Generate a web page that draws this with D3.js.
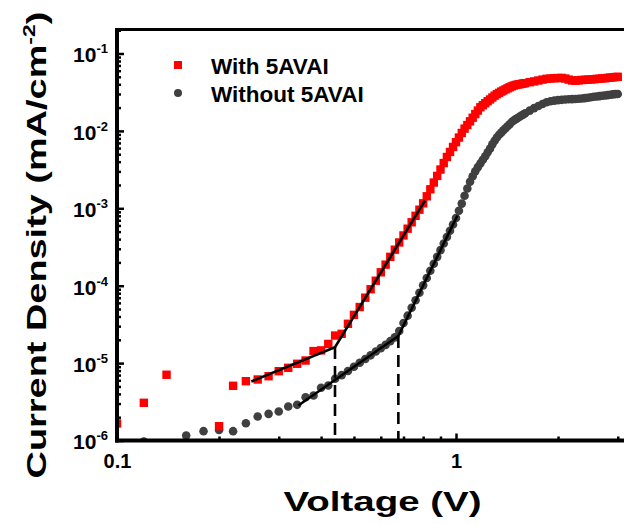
<!DOCTYPE html>
<html><head><meta charset="utf-8">
<script src="https://cdn.jsdelivr.net/npm/d3@7"></script>
<style>
body{margin:0;background:#fff}
svg{display:block;background:#fff}
text{font-family:Arial,"Liberation Sans",sans-serif;font-weight:bold;fill:#000}
</style>
</head><body>
<svg id="chart" width="624" height="524"></svg>
<script>
// ---------------- data ----------------
const voltage = [0.10,0.12,0.14,0.16,0.18,0.20,0.22,0.24,0.26,0.28,0.30,0.32,0.34,0.36,0.38,0.40,0.42,0.44,0.46,0.48,
  0.50,0.52,0.54,0.56,0.58,0.60,0.62,0.64,0.66,0.68,0.70,0.72,0.74,0.76,0.78,0.80,0.82,0.84,0.86,0.88,
  0.90,0.92,0.94,0.96,0.98,1.00,1.02,1.04,1.06,1.08,1.10,1.12,1.14,1.16,1.18,1.20,
  1.22,1.24,1.26,1.28,1.30,1.32,1.34,1.36,1.38,1.40,1.42,1.44,1.46,1.48,1.50,1.52,1.54,1.56,1.58,1.60,
  1.65,1.70,1.75,1.80,1.85,1.90,1.95,2.00,2.05,2.10,2.15,2.20,
  2.25,2.30,2.35,2.40,2.45,2.50,2.55,2.60,2.65,2.70,2.75,2.80,2.85,2.90,2.95,3.00];

const jWith = [1.66e-6,3.07e-6,7.07e-6,null,null,1.53e-6,5.09e-6,5.84e-6,6.14e-6,6.77e-6,7.86e-6,8.69e-6,9.8e-6,1.08e-5,1.43e-5,1.46e-5,1.77e-5,2.27e-5,2.39e-5,3.22e-5,
  4.2e-5,5.3e-5,7.0e-5,9.0e-5,1.16e-4,1.49e-4,1.87e-4,2.36e-4,2.92e-4,3.62e-4,4.46e-4,5.45e-4,6.6e-4,8.0e-4,9.6e-4,1.16e-3,1.43e-3,1.76e-3,2.15e-3,2.62e-3,
  3.17e-3,3.84e-3,4.6e-3,5.35e-3,6.2e-3,7.15e-3,8.2e-3,9.4e-3,1.07e-2,1.19e-2,1.33e-2,1.48e-2,1.65e-2,1.83e-2,2.02e-2,2.15e-2,
  2.28e-2,2.42e-2,2.55e-2,2.7e-2,2.85e-2,2.98e-2,3.1e-2,3.22e-2,3.33e-2,3.44e-2,3.55e-2,3.66e-2,3.76e-2,3.85e-2,3.92e-2,3.97e-2,4.01e-2,4.05e-2,4.1e-2,4.14e-2,
  4.26e-2,4.36e-2,4.48e-2,4.6e-2,4.71e-2,4.75e-2,4.8e-2,4.82e-2,4.84e-2,4.75e-2,4.6e-2,4.48e-2,
  4.45e-2,4.5e-2,4.55e-2,4.57e-2,4.6e-2,4.62e-2,4.65e-2,4.7e-2,4.72e-2,4.77e-2,4.8e-2,4.84e-2,4.88e-2,4.92e-2,4.96e-2,5.0e-2];

const jWithout = [null,0.97e-6,null,1.16e-6,1.32e-6,1.37e-6,1.32e-6,1.67e-6,2.04e-6,2.21e-6,2.37e-6,2.75e-6,2.89e-6,3.62e-6,3.81e-6,4.8e-6,5.14e-6,6.27e-6,7.0e-6,7.9e-6,
  8.96e-6,1.01e-5,1.13e-5,1.26e-5,1.41e-5,1.56e-5,1.72e-5,1.92e-5,2.15e-5,2.6e-5,3.3e-5,4.1e-5,5.2e-5,6.5e-5,8.1e-5,1.01e-4,1.26e-4,1.56e-4,1.92e-4,2.36e-4,
  2.88e-4,3.51e-4,4.25e-4,5.13e-4,6.17e-4,7.5e-4,9.3e-4,1.15e-3,1.45e-3,1.8e-3,2.2e-3,2.6e-3,3.0e-3,3.4e-3,3.8e-3,4.24e-3,
  4.7e-3,5.3e-3,5.9e-3,6.7e-3,7.45e-3,8.2e-3,8.9e-3,9.5e-3,1.02e-2,1.08e-2,1.15e-2,1.22e-2,1.3e-2,1.36e-2,1.42e-2,1.47e-2,1.52e-2,1.58e-2,1.63e-2,1.69e-2,
  1.83e-2,1.97e-2,2.1e-2,2.23e-2,2.35e-2,2.42e-2,2.46e-2,2.5e-2,2.52e-2,2.54e-2,2.56e-2,2.57e-2,
  2.58e-2,2.6e-2,2.62e-2,2.65e-2,2.68e-2,2.72e-2,2.76e-2,2.78e-2,2.81e-2,2.84e-2,2.87e-2,2.9e-2,2.93e-2,2.96e-2,2.99e-2,3.0e-2];

const seriesNames = ["With 5AVAI", "Without 5AVAI"];
const seriesColors = ["#ff0000", "#404040"];

// linear fits (knee lines)
const fitWithV = [0.249, 0.4396, 0.810];
const fitWithJ = [5.78e-6, 1.61e-5, 1.26e-3];
const fitWithoutV = [0.3425, 0.676, 1.01];
const fitWithoutJ = [2.83e-6, 2.24e-5, 8.07e-4];
// dashed markers of the knee voltages
const kneeV = [0.4396, 0.676];
const kneeJ = [1.61e-5, 2.24e-5];

const xMajorTicks = [0.1, 1];
const xTickLabels = ["0.1", "1"];
const xMinorTicks = [0.2,0.3,0.4,0.5,0.6,0.7,0.8,0.9,2,3];
const yMajorTicks = [1e-6,1e-5,1e-4,1e-3,1e-2,1e-1];
const yTickExponents = ["-6","-5","-4","-3","-2","-1"];

const xTitle = "Voltage (V)";
const yTitleMain = "Current Density (mA/cm";
const yTitleSup = "-2";
const yTitleEnd = ")";

// ---------------- layout ----------------
const svg = d3.select("#chart");
const plotLeft = 117, plotBottom = 440.5, plotTop = 30;
const x = d3.scaleLog().domain([0.1, 3.2]).range([plotLeft, plotLeft + 339 * Math.log10(32)]);
const y = d3.scaleLog().domain([1e-6, 0.2]).range([plotBottom, plotBottom - 77.4 * Math.log10(2e5)]);

svg.append("defs").append("clipPath").attr("id","clip")
  .append("rect").attr("x", plotLeft).attr("y", 0).attr("width", 624 - plotLeft).attr("height", plotBottom);

// data markers
const plot = svg.append("g").attr("clip-path","url(#clip)");
const withPts = voltage.map((v,i)=>({v, j:jWith[i]})).filter(d=>d.j!=null);
const withoutPts = voltage.map((v,i)=>({v, j:jWithout[i]})).filter(d=>d.j!=null);

plot.append("g").selectAll("circle").data(withoutPts).join("circle")
  .attr("cx", d=>x(d.v)).attr("cy", d=>y(d.j)).attr("r", 4.3).attr("fill", seriesColors[1]);
plot.append("g").selectAll("rect").data(withPts).join("rect")
  .attr("x", d=>x(d.v)-4.2).attr("y", d=>y(d.j)-4.2).attr("width", 8.4).attr("height", 8.4).attr("fill", seriesColors[0]);

// fit lines
const line = d3.line().x(d=>x(d[0])).y(d=>y(d[1]));
svg.append("path").attr("d", line(fitWithV.map((v,i)=>[v, fitWithJ[i]])))
  .attr("fill","none").attr("stroke","#000").attr("stroke-width",2.6);
svg.append("path").attr("d", line(fitWithoutV.map((v,i)=>[v, fitWithoutJ[i]])))
  .attr("fill","none").attr("stroke","#000").attr("stroke-width",2.6);
// dashed verticals
svg.append("g").selectAll("line").data(kneeV).join("line")
  .attr("x1", d=>x(d)).attr("x2", d=>x(d))
  .attr("y1", (d,i)=>y(kneeJ[i])).attr("y2", y(1e-6))
  .attr("stroke","#000").attr("stroke-width",2.6).attr("stroke-dasharray","12,7");

// ---------------- axes ----------------
svg.append("g").attr("transform",`translate(0,${plotBottom})`)
  .call(d3.axisBottom(x).tickValues(xMinorTicks).tickSize(-4).tickFormat(""))
  .call(g=>{g.select(".domain").remove(); g.selectAll("line").attr("stroke-width",2.5);});
const gx = svg.append("g").attr("transform",`translate(0,${plotBottom})`)
  .call(d3.axisBottom(x).tickValues(xMajorTicks).tickSize(-7).tickPadding(13)
        .tickFormat((d,i)=>xTickLabels[i]));
gx.select(".domain").remove();
gx.selectAll("line").attr("stroke-width",2.5);
gx.selectAll("text").attr("font-size",20).attr("font-family",null).style("font-weight","bold");

const yMinor = y.ticks().filter(t=>!yMajorTicks.some(m=>Math.abs(m-t)/m<1e-6));
svg.append("g").attr("transform",`translate(${plotLeft},0)`)
  .call(d3.axisLeft(y).tickValues(yMinor).tickSize(-4).tickFormat(""))
  .call(g=>{g.select(".domain").remove(); g.selectAll("line").attr("stroke-width",2.5);});
const gy = svg.append("g").attr("transform",`translate(${plotLeft},0)`)
  .call(d3.axisLeft(y).tickValues(yMajorTicks).tickSize(-7).tickPadding(9).tickFormat(""));
gy.select(".domain").remove();
gy.selectAll("line").attr("stroke-width",2.5);
gy.selectAll(".tick text").each(function(d,i){
  const t = d3.select(this).attr("font-size",21).attr("font-family",null).attr("dy","0.4em");
  t.append("tspan").text("10");
  t.append("tspan").attr("font-size",13).attr("dy",-9).text(yTickExponents[i]);
});

svg.append("line").attr("x1",plotLeft).attr("x2",plotLeft).attr("y1",plotTop-2).attr("y2",plotBottom+2)
  .attr("stroke","#000").attr("stroke-width",4);
svg.append("line").attr("x1",plotLeft-2).attr("x2",624).attr("y1",plotBottom).attr("y2",plotBottom)
  .attr("stroke","#000").attr("stroke-width",4);
svg.append("line").attr("x1",plotLeft-2).attr("x2",624).attr("y1",plotTop-0.5).attr("y2",plotTop-0.5)
  .attr("stroke","#000").attr("stroke-width",3);

// ---------------- titles ----------------
const xt = svg.append("text").attr("text-anchor","middle").attr("font-size",28).text(xTitle);
const xw = xt.node().getBBox().width;
xt.attr("transform",`translate(382.5,511) scale(${198/xw},1)`);

const yt = svg.append("text").attr("text-anchor","middle").attr("font-size",28);
yt.append("tspan").text(yTitleMain);
yt.append("tspan").attr("font-size",17).attr("dy",-11).text(yTitleSup);
yt.append("tspan").attr("dy",11).text(yTitleEnd);
const yw = yt.node().getBBox().width;
yt.attr("transform",`translate(46,245) rotate(-90) scale(${467/yw},1)`);

// ---------------- legend ----------------
const lg = svg.append("g");
lg.append("rect").attr("x",174).attr("y",61).attr("width",8).attr("height",8).attr("fill",seriesColors[0]);
lg.append("circle").attr("cx",178).attr("cy",93).attr("r",4).attr("fill",seriesColors[1]);
lg.selectAll("text").data(seriesNames).join("text")
  .attr("x",211).attr("y",(d,i)=>73.5+i*28).attr("font-size",22.5).text(d=>d);
</script>
</body></html>
